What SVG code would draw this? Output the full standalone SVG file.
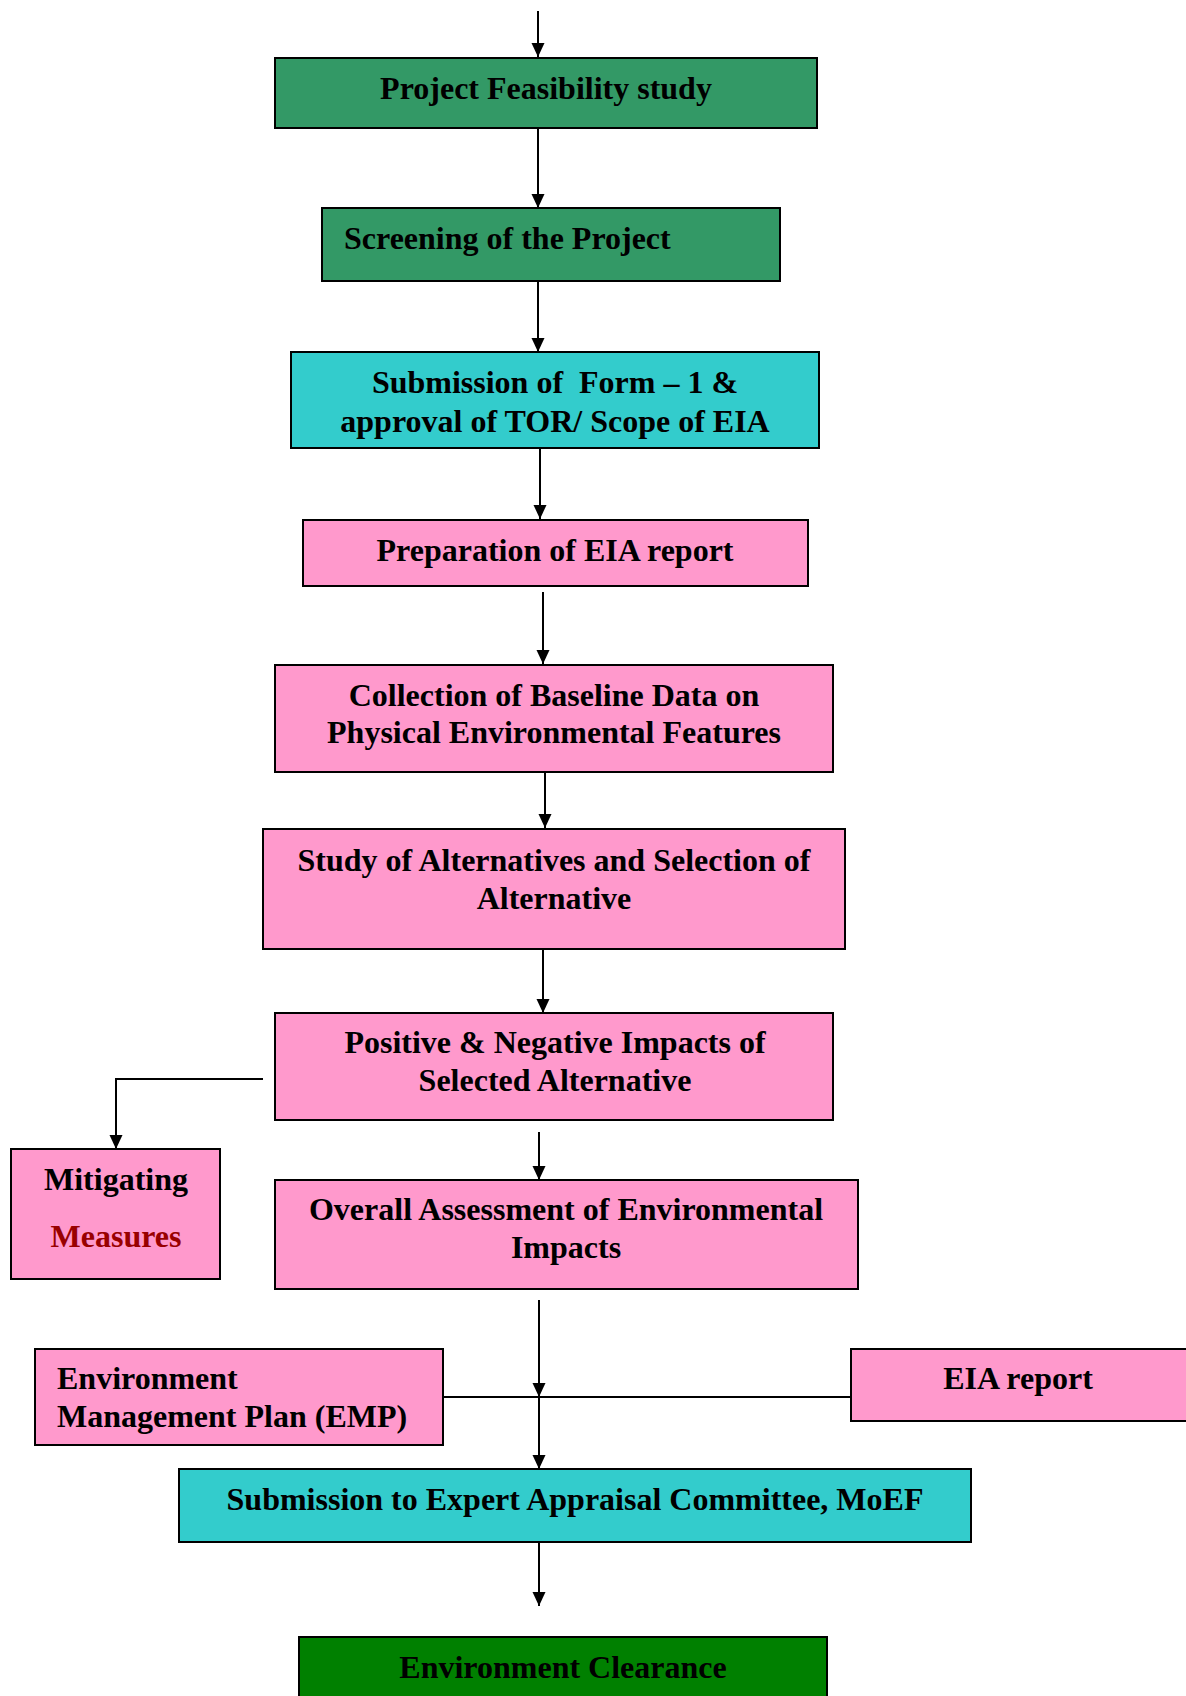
<svg xmlns="http://www.w3.org/2000/svg" width="1186" height="1696" viewBox="0 0 1186 1696">
<style>
.box{stroke:#000;stroke-width:2}
.g{fill:#339966}.c{fill:#33CCCC}.p{fill:#FF99CC}.dg{fill:#008000}
text{font-family:"Liberation Serif","Times New Roman",serif;font-weight:bold;font-size:32px;fill:#000}
.m{text-anchor:middle}
.con{stroke:#000;stroke-width:2;fill:none}
</style>
<defs>
<marker id="ah" markerUnits="userSpaceOnUse" viewBox="0 0 14 14" refX="14" refY="7" markerWidth="14" markerHeight="14" orient="auto">
<path d="M0,0.5 L14,7 L0,13.5 z" fill="#000"/>
</marker>
</defs>
<rect width="1186" height="1696" fill="#fff"/>
<g id="connectors">
<line class="con" x1="538" y1="11" x2="538" y2="57" marker-end="url(#ah)"/>
<line class="con" x1="538" y1="128" x2="538" y2="208" marker-end="url(#ah)"/>
<line class="con" x1="538" y1="281" x2="538" y2="352" marker-end="url(#ah)"/>
<line class="con" x1="540" y1="443" x2="540" y2="519" marker-end="url(#ah)"/>
<line class="con" x1="543" y1="592" x2="543" y2="664" marker-end="url(#ah)"/>
<line class="con" x1="545" y1="772" x2="545" y2="828" marker-end="url(#ah)"/>
<line class="con" x1="543" y1="949" x2="543" y2="1013" marker-end="url(#ah)"/>
<polyline class="con" points="263,1079 116,1079 116,1149" marker-end="url(#ah)"/>
<line class="con" x1="539" y1="1132" x2="539" y2="1180" marker-end="url(#ah)"/>
<line class="con" x1="539" y1="1300" x2="539" y2="1397" marker-end="url(#ah)"/>
<line class="con" x1="539" y1="1397" x2="539" y2="1469" marker-end="url(#ah)"/>
<line class="con" x1="443" y1="1397" x2="851" y2="1397"/>
<line class="con" x1="539" y1="1542" x2="539" y2="1606" marker-end="url(#ah)"/>
</g>
<g id="n1"><rect class="box g" x="275" y="58" width="542" height="70"/><text class="m" x="546" y="99">Project Feasibility study</text></g>
<g id="n2"><rect class="box g" x="322" y="208" width="458" height="73"/><text x="344" y="249">Screening of the Project</text></g>
<g id="n3"><rect class="box c" x="291" y="352" width="528" height="96"/><text class="m" x="555" y="393" style="white-space:pre">Submission of  Form – 1 &amp;</text><text class="m" x="555" y="432">approval of TOR/ Scope of EIA</text></g>
<g id="n4"><rect class="box p" x="303" y="520" width="505" height="66"/><text class="m" x="555" y="561">Preparation of EIA report</text></g>
<g id="n5"><rect class="box p" x="275" y="665" width="558" height="107"/><text class="m" x="554" y="706">Collection of Baseline Data on</text><text class="m" x="554" y="743">Physical Environmental Features</text></g>
<g id="n6"><rect class="box p" x="263" y="829" width="582" height="120"/><text class="m" x="554" y="871">Study of Alternatives and Selection of</text><text class="m" x="554" y="909">Alternative</text></g>
<g id="n7"><rect class="box p" x="275" y="1013" width="558" height="107"/><text class="m" x="555" y="1053">Positive &amp; Negative Impacts of</text><text class="m" x="555" y="1091">Selected Alternative</text></g>
<g id="n8"><rect class="box p" x="11" y="1149" width="209" height="130"/><text class="m" x="116" y="1190">Mitigating</text><text class="m" x="116" y="1247" style="fill:#990000">Measures</text></g>
<g id="n9"><rect class="box p" x="275" y="1180" width="583" height="109"/><text class="m" x="566" y="1220">Overall Assessment of Environmental</text><text class="m" x="566" y="1258">Impacts</text></g>
<g id="n10"><rect class="box p" x="35" y="1349" width="408" height="96"/><text x="57" y="1389">Environment</text><text x="57" y="1427">Management Plan (EMP)</text></g>
<g id="n11"><rect class="box p" x="851" y="1349" width="345" height="72"/><text class="m" x="1018" y="1389">EIA report</text></g>
<g id="n12"><rect class="box c" x="179" y="1469" width="792" height="73"/><text class="m" x="575" y="1510">Submission to Expert Appraisal Committee, MoEF</text></g>
<g id="n13"><rect class="box dg" x="299" y="1637" width="528" height="70"/><text class="m" x="563" y="1678">Environment Clearance</text></g>
</svg>
